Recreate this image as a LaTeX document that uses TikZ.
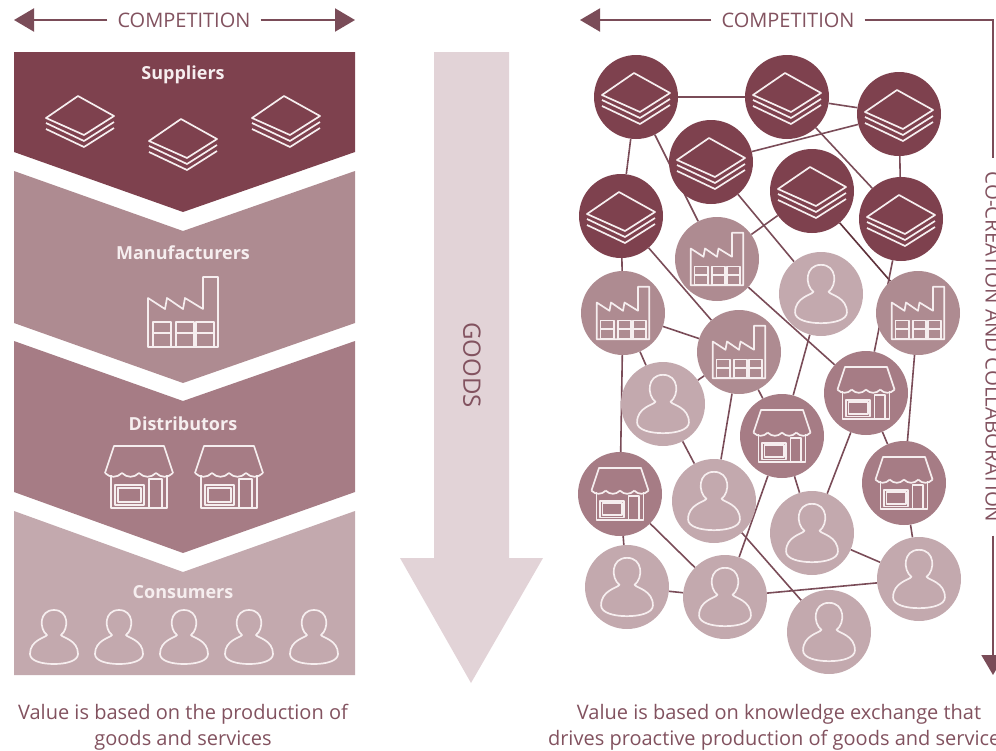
\documentclass[tikz,border=0pt]{standalone}
\usepackage{fontspec}
\setmainfont{Open Sans}
\usetikzlibrary{positioning,arrows.meta,backgrounds}
\definecolor{wine}{HTML}{7E414E}
\definecolor{wineline}{HTML}{7A4C58}
\definecolor{winetext}{HTML}{82525F}
\definecolor{makercol}{HTML}{AE8B91}
\definecolor{distcol}{HTML}{A67C85}
\definecolor{usercol}{HTML}{C3A9AE}
\definecolor{goodscol}{HTML}{E2D3D7}
\definecolor{iconcol}{HTML}{F6EEEF}
\tikzstyle{icon}=[draw=iconcol, line width=1.7pt, line join=round]
\tikzstyle{basenode}=[circle, minimum size=84pt, inner sep=0pt]
\tikzstyle{stacknode}=[basenode, fill=wine]
\tikzstyle{factorynode}=[basenode, fill=makercol]
\tikzstyle{shopnode}=[basenode, fill=distcol]
\tikzstyle{usernode}=[basenode, fill=usercol]
\tikzstyle{tier}=[text=iconcol, font=\fontsize{18}{21}\selectfont\bfseries]
\tikzstyle{caption}=[text=winetext, align=center, font=\fontsize{20}{26}\selectfont]
\tikzstyle{heading}=[text=winetext, inner sep=10pt, font=\fontsize{20}{24}\selectfont]
\tikzstyle{compline}=[draw=wineline, line width=2pt]
\tikzstyle{comparrow}=[compline, -{Triangle[length=20pt,width=23pt]}]
\tikzstyle{link}=[draw=wineline, line width=1.6pt]
\tikzset{
  stackicon/.pic={
    \draw[icon] (-2,-24) -- (34,-4) -- (4,15) -- (-34,-2) -- cycle;
    \draw[icon] (-34,3) -- (4,21) -- (34,2);
    \draw[icon] (-34,9) -- (4,27) -- (34,8);
  },
  factoryicon/.pic={
    \draw[icon] (-35,35) -- (-35,-14) -- (-18,-3) -- (-16,-14) -- (0,-3) -- (2,-14) -- (20,-3) -- (20,-35) -- (35,-35) -- (35,35) -- cycle;
    \foreach \x in {-30,-7,13} {
      \draw[icon] (\x,10) rectangle (\x+18,35);
      \draw[icon] (\x,21) -- (\x+18,21);
    }
  },
  shopicon/.pic={
    \draw[icon] (-34,-4) -- (-25,-31) -- (25,-31) -- (34,-4);
    \foreach \x in {-34,-17,0,17} {
      \draw[icon] (\x,-4) .. controls (\x+5,1) and (\x+12,1) .. (\x+17,-4);
    }
    \draw[icon] (-28,-2) -- (-28,31) -- (28,31) -- (28,-2);
    \draw[icon] (10,31) -- (10,2) -- (23,2) -- (23,31);
    \draw[icon] (-24,8) rectangle (5,28);
    \draw[icon] (-21,11) rectangle (2,25);
  },
  usericon/.pic={
    \draw[icon] (-7,-2) .. controls (-15,-8) and (-15,-27) .. (0,-27) .. controls (15,-27) and (15,-8) .. (7,-2)
      .. controls (9,1) and (24,3) .. (24,17) .. controls (24,24) and (12,27) .. (0,27)
      .. controls (-12,27) and (-24,24) .. (-24,17) .. controls (-24,3) and (-9,1) .. (-7,-2) -- cycle;
  },
}

\begin{document}
\begin{tikzpicture}[x=1pt,y=-1pt]
\useasboundingbox (0,0) rectangle (996,750);
%Left tiers
\fill[wine] (14,52) -- (355,52) -- (355,152) -- (183,212) -- (14,152) -- cycle;
\fill[makercol] (14,171) -- (183,231) -- (355,171) -- (355,323) -- (183,383) -- (14,323) -- cycle;
\fill[distcol] (14,341) -- (183,401) -- (355,341) -- (355,492) -- (183,553) -- (14,492) -- cycle;
\fill[usercol] (14,511) -- (183,572) -- (355,511) -- (355,675) -- (14,675) -- cycle;
\node[tier] (suppliers) at (183,74.5) {Suppliers};
\node[tier] (makers) at (183,253) {Manufacturers};
\node[tier] (distributors) at (183,424) {Distributors};
\node[tier] (consumers) at (183,592) {Consumers};
\pic at (80,120) {stackicon};
\pic at (183,143) {stackicon};
\pic at (286,120) {stackicon};
\pic at (183,312) {factoryicon};
\pic at (139,477) {shopicon};
\pic at (229,477) {shopicon};
\foreach \x in {54,119,184,249,314} {
  \pic at (\x,637) {usericon};
}
%Goods arrow
\fill[goodscol] (434,52) -- (509,52) -- (509,558) -- (543,558) -- (471,683) -- (400,558) -- (434,558) -- cycle;
\node[text=winetext, rotate=-90, font=\fontsize{24}{28}\selectfont] (goods) at (472,365) {GOODS};
%Headings
\node[heading] (compleft) at (184,20) {COMPETITION};
\coordinate (compleftA) at (14,20);
\coordinate (compleftB) at (355,20);
\draw[comparrow] (compleft) -- (compleftA);
\draw[comparrow] (compleft) -- (compleftB);
\node[heading] (compright) at (788,20) {COMPETITION};
\node[heading, rotate=-90, inner sep=13pt, font=\fontsize{20.5}{24}\selectfont] (cocreate) at (993,347) {CO-CREATION AND COLLABORATION};
\coordinate (comprightA) at (580,20);
\coordinate (comprightB) at (993,675);
\draw[comparrow] (compright) -- (comprightA);
\draw[compline] (compright) -| (cocreate);
\draw[comparrow] (cocreate) -- (comprightB);
%Nodes
\node[stacknode] (s1) at (636,97) {};    \pic at (s1) {stackicon};
\node[stacknode] (s2) at (787,97) {};    \pic at (s2) {stackicon};
\node[stacknode] (s3) at (899,114) {};   \pic at (s3) {stackicon};
\node[stacknode] (s4) at (711,162) {};   \pic at (s4) {stackicon};
\node[stacknode] (s5) at (812,191) {};   \pic at (s5) {stackicon};
\node[stacknode] (s6) at (901,219) {};   \pic at (s6) {stackicon};
\node[stacknode] (s7) at (621,216) {};   \pic at (s7) {stackicon};
\node[factorynode] (f1) at (717,259) {}; \pic[scale=.75] at (f1) {factoryicon};
\node[factorynode] (f2) at (623,313) {}; \pic[scale=.75] at (f2) {factoryicon};
\node[factorynode] (f3) at (918,313) {}; \pic[scale=.75] at (f3) {factoryicon};
\node[factorynode] (f4) at (739,352) {}; \pic[scale=.75] at (f4) {factoryicon};
\node[shopnode] (d1) at (866,393) {};    \pic[scale=.84] at (d1) {shopicon};
\node[shopnode] (d2) at (782,436) {};    \pic[scale=.84] at (d2) {shopicon};
\node[shopnode] (d3) at (904,483) {};    \pic[scale=.84] at (d3) {shopicon};
\node[shopnode] (d4) at (620,494) {};    \pic[scale=.84] at (d4) {shopicon};
\node[usernode] (u1) at (821,294) {};    \pic[scale=1.08] at (u1) {usericon};
\node[usernode] (u2) at (663,404) {};    \pic[scale=1.08] at (u2) {usericon};
\node[usernode] (u3) at (714,501) {};    \pic[scale=1.08] at (u3) {usericon};
\node[usernode] (u4) at (812,533) {};    \pic[scale=1.08] at (u4) {usericon};
\node[usernode] (u5) at (627,587) {};    \pic[scale=1.08] at (u5) {usericon};
\node[usernode] (u6) at (725,597) {};    \pic[scale=1.08] at (u6) {usericon};
\node[usernode] (u7) at (919,579) {};    \pic[scale=1.08] at (u7) {usericon};
\node[usernode] (u8) at (829,632) {};    \pic[scale=1.08] at (u8) {usericon};
%Lines
\begin{scope}[on background layer]
\draw[link] (s1) -- (s2);
\draw[link] (s2) -- (s3);
\draw[link] (s1) -- (s7);
\draw[link] (s1) -- (f1);
\draw[link] (s4) -- (s3);
\draw[link] (s2) -- (s6);
\draw[link] (s3) -- (s6);
\draw[link] (s4) -- (u1);
\draw[link] (s5) -- (f1);
\draw[link, draw=wine!75!black] (s5) -- (f3);
\draw[link] (s6) -- (d1);
\draw[link] (s7) -- (f2);
\draw[link] (s7) -- (f4);
\draw[link] (f2) -- (f4);
\draw[link] (f1) -- (d1);
\draw[link] (u1) -- (d2);
\draw[link] (f3) -- (d3);
\draw[link] (f2) -- (u2);
\draw[link] (f2) -- (d4);
\draw[link] (f4) -- (u2);
\draw[link] (f4) -- (d2);
\draw[link] (f4) -- (u3);
\draw[link] (d1) -- (d3);
\draw[link] (d1) -- (u4);
\draw[link] (d2) -- (u4);
\draw[link] (d2) -- (u6);
\draw[link] (u2) -- (u3);
\draw[link] (d4) -- (u5);
\draw[link] (d4) -- (u6);
\draw[link] (u3) -- (u8);
\draw[link] (u4) -- (u7);
\draw[link] (d3) -- (u7);
\draw[link] (u5) -- (u6);
\draw[link] (u6) -- (u7);
\end{scope}
%Captions
\node[caption] (valueleft) at (183,727) {Value is based on the production of\\goods and services};
\node[caption] (valueright) at (779,727) {Value is based on knowledge exchange that\\drives proactive production of goods and services};
\end{tikzpicture}
\end{document}
